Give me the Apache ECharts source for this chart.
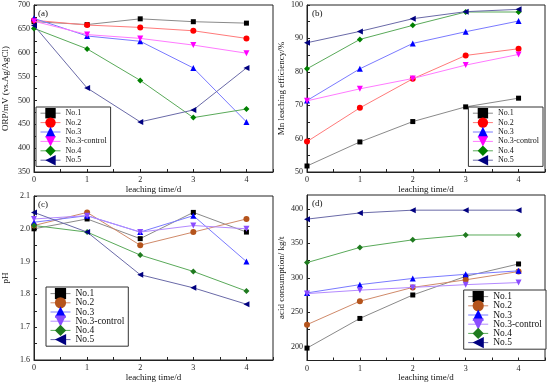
<!DOCTYPE html>
<html>
<head>
<meta charset="utf-8">
<script src="https://cdn.jsdelivr.net/npm/echarts@6/dist/echarts.min.js"></script>
<style>
html,body{margin:0;padding:0;background:#fff;}
#main{width:550px;height:386px;}
</style>
</head>
<body>
<div id="main"></div>
<script>
// ---- data ----
var days = [0, 1, 2, 3, 4];
var seriesNames = ['No.1', 'No.2', 'No.3', 'No.3-control', 'No.4', 'No.5'];

var orpNo1  = [665, 659, 671, 665, 662];
var orpNo2  = [668, 658, 653, 646, 630];
var orpNo3  = [672, 635, 624, 568, 455];
var orpNo3c = [666, 638, 630, 616, 599];
var orpNo4  = [651, 608, 542, 464, 482];
var orpNo5  = [657, 526, 455, 480, 568];

var mnNo1  = [51.8, 59.0, 65.1, 69.5, 72.1];
var mnNo2  = [59.1, 69.2, 77.9, 84.9, 86.9];
var mnNo3  = [71.4, 80.9, 88.5, 92.0, 95.2];
var mnNo3c = [71.3, 74.9, 78.0, 82.0, 85.2];
var mnNo4  = [80.9, 89.7, 93.9, 97.9, 97.9];
var mnNo5  = [88.7, 92.1, 95.9, 98.0, 98.7];

var phNo1  = [2.00, 2.03, 1.97, 2.05, 1.99];
var phNo2  = [2.01, 2.05, 1.95, 1.99, 2.03];
var phNo3  = [2.02, 2.04, 1.99, 2.04, 1.90];
var phNo3c = [2.03, 2.04, 1.99, 2.01, 2.00];
var phNo4  = [2.01, 1.99, 1.92, 1.87, 1.81];
var phNo5  = [2.05, 1.99, 1.86, 1.82, 1.77];

var acidNo1  = [198, 241, 275, 302, 320];
var acidNo2  = [232, 266, 286, 297, 309];
var acidNo3  = [278, 290, 299, 305, 310];
var acidNo3c = [277, 282, 286, 290, 293];
var acidNo4  = [322, 344, 355, 362, 362];
var acidNo5  = [385, 394, 398, 398, 398];

var xTickLabels = [0, 1, 2, 3, 4];
var orpTicks  = [350, 400, 450, 500, 550, 600, 650, 700];
var mnTicks   = [50, 60, 70, 80, 90, 100];
var phTicks   = [1.6, 1.7, 1.8, 1.9, 2.0, 2.1];
var acidTicks = [200, 250, 300, 350, 400];

// ---- styling ----
var FONT = 'Liberation Serif';
var symbols = ['rect', 'circle', 'triangle', 'triangle', 'diamond', 'triangle'];
var rotations = [0, 0, 0, 180, 0, 90];
var sizes = [5, 6, 6, 6, 6, 6];
var colorsAB = ['#000000', '#ff0000', '#0000ff', '#ff00ff', '#008000', '#000080'];
var lineAB   = ['#8a8a8a', '#ff7a7a', '#7a7aff', '#ff7aff', '#5aaa5a', '#6a6aa8'];
var colorsCD = ['#000000', '#b5541c', '#0000ff', '#8b4dff', '#1f7a1f', '#000080'];
var lineCD   = ['#8a8a8a', '#d08a6a', '#7a7aff', '#b48aff', '#5aaa5a', '#6a6aa8'];

var panels = [
  {data: [orpNo1, orpNo2, orpNo3, orpNo3c, orpNo4, orpNo5], colors: colorsAB, lines: lineAB,
   min: 350, max: 700, ticks: orpTicks, step: 25, name: 'ORP/mV (vs.Ag/AgCl)',
   grid: {left: 33, top: 5, width: 240, height: 167}, label: '(a)'},
  {data: [mnNo1, mnNo2, mnNo3, mnNo3c, mnNo4, mnNo5], colors: colorsAB, lines: lineAB,
   min: 50, max: 100, ticks: mnTicks, step: 5, name: 'Mn leaching efficiency/%',
   grid: {left: 307, top: 5, width: 238, height: 167}, label: '(b)'},
  {data: [phNo1, phNo2, phNo3, phNo3c, phNo4, phNo5], colors: colorsCD, lines: lineCD,
   min: 1.6, max: 2.1, ticks: phTicks, step: 0.05, name: 'pH',
   grid: {left: 33, top: 196, width: 240, height: 164}, label: '(c)'},
  {data: [acidNo1, acidNo2, acidNo3, acidNo3c, acidNo4, acidNo5], colors: colorsCD, lines: lineCD,
   min: 180, max: 420, ticks: acidTicks, step: 25, name: 'acid consumption/ kg/t',
   grid: {left: 307, top: 195, width: 238, height: 165.5}, label: '(d)'}
];

var legendPos = [
  {pos: {left: 36, top: 107}, font: 8, ih: 13, gap: -1},
  {pos: {right: 7, top: 107}, font: 8, ih: 13, gap: -1},
  {pos: {left: 46, top: 287}, font: 9.5, ih: 14, gap: -2},
  {pos: {right: 4, top: 290}, font: 9.5, ih: 14, gap: -2}
];

function range(a, b, s) {
  var out = [];
  for (var v = a; v <= b + 1e-9; v += s) out.push(Math.round(v * 1000) / 1000);
  return out;
}

var grids = [], xAxes = [], yAxes = [], series = [], legends = [], titles = [];

panels.forEach(function (p, i) {
  grids.push(Object.assign({show: true, borderColor: '#222', borderWidth: 1, backgroundColor: 'transparent'}, p.grid));
  xAxes.push({
    type: 'value', gridIndex: i, min: 0, max: 4.5,
    name: 'leaching time/d', nameLocation: 'middle', nameGap: 13,
    nameTextStyle: {fontFamily: FONT, fontSize: 9, color: '#111'},
    axisLine: {show: true, lineStyle: {color: '#222', width: 1}},
    axisTick: {show: true, inside: true, length: 3, customValues: range(0, 4.5, 0.5), lineStyle: {color: '#222'}},
    axisLabel: {show: true, customValues: xTickLabels, fontFamily: FONT, fontSize: 8, color: '#222', margin: 4},
    splitLine: {show: false}
  });
  var decimals = (p.step < 1) ? 1 : 0;
  yAxes.push({
    type: 'value', gridIndex: i, min: p.min, max: p.max,
    name: p.name, nameLocation: 'middle', nameGap: (i % 2 === 0) ? 24 : 21, nameRotate: 90,
    nameTextStyle: {fontFamily: FONT, fontSize: 9, color: '#111'},
    axisLine: {show: true, lineStyle: {color: '#222', width: 1}},
    axisTick: {show: true, inside: true, length: 3, customValues: range(p.ticks[0], p.ticks[p.ticks.length - 1], p.step), lineStyle: {color: '#222'}},
    axisLabel: {show: true, customValues: p.ticks, fontFamily: FONT, fontSize: 8, color: '#222', margin: 4,
      formatter: function (v) { return decimals ? v.toFixed(1) : String(v); }},
    splitLine: {show: false}
  });
  p.data.forEach(function (arr, k) {
    series.push({
      type: 'line', name: seriesNames[k], xAxisIndex: i, yAxisIndex: i,
      data: days.map(function (d, j) { return [d, arr[j]]; }),
      symbol: symbols[k], symbolRotate: rotations[k], symbolSize: sizes[k],
      showAllSymbol: true, animation: false,
      itemStyle: {color: p.colors[k]},
      lineStyle: {color: p.lines[k], width: 1},
      z: 2 + k
    });
  });
  var lp = legendPos[i];
  legends.push(Object.assign({
    orient: 'vertical',
    itemWidth: 20, itemHeight: lp.ih, itemGap: lp.gap,
    padding: [1, 4, 1, 4],
    borderColor: '#333', borderWidth: 1, backgroundColor: '#fff',
    selectedMode: false,
    textStyle: {fontFamily: FONT, fontSize: lp.font, color: '#111'},
    data: seriesNames.map(function (n, k) {
      return {name: n,
        itemStyle: {color: p.colors[k]},
        lineStyle: {color: p.lines[k], width: 1}};
    })
  }, lp.pos));
  titles.push({
    text: p.label, left: p.grid.left + 5, top: p.grid.top + 4,
    textStyle: {fontFamily: FONT, fontSize: 9, fontWeight: 'normal', color: '#111'}, padding: 0
  });
});

var chart = echarts.init(document.getElementById('main'), null, {renderer: 'canvas'});
chart.setOption({
  animation: false,
  backgroundColor: '#fff',
  title: titles,
  grid: grids,
  xAxis: xAxes,
  yAxis: yAxes,
  legend: legends,
  series: series
});
</script>
</body>
</html>
